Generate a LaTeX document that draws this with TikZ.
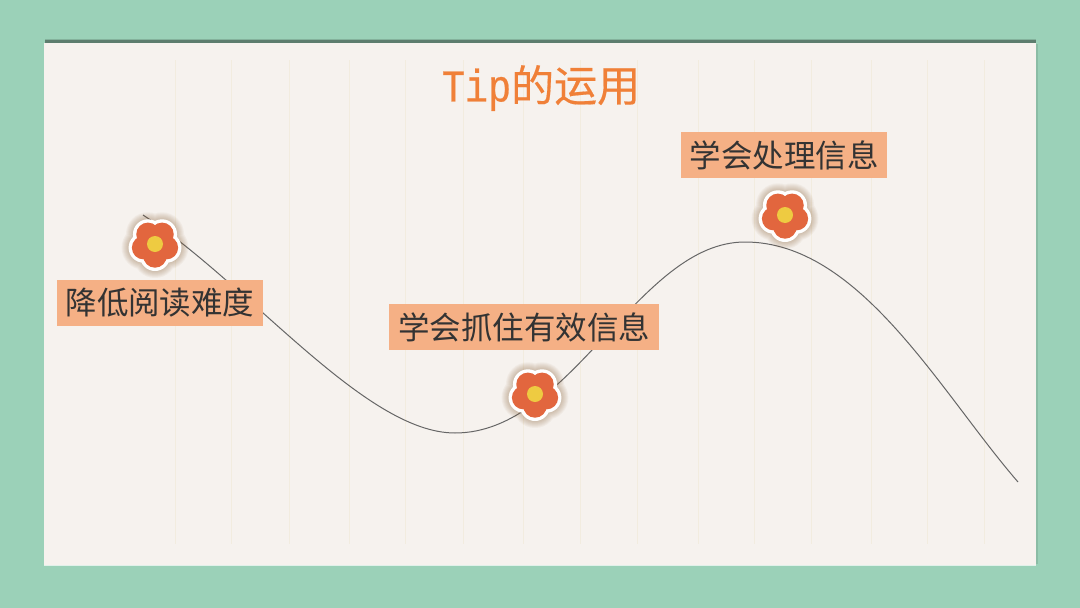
\documentclass[tikz,border=0pt]{standalone}
\usepackage{graphicx}
\usepackage{fontspec}
\newfontfamily\cjk{Noto Sans CJK SC}
\newfontfamily\titlecjk[FakeBold=0.4]{Noto Sans CJK SC}
\newfontfamily\latinmono[FakeBold=0.6]{Liberation Mono}
\definecolor{bgc}{HTML}{9BD1B8}
\definecolor{panelc}{HTML}{F6F2EE}
\definecolor{gridc}{HTML}{F2ECDF}
\definecolor{labelc}{HTML}{F5B085}
\definecolor{petalc}{HTML}{E2663E}
\definecolor{corec}{HTML}{EECB41}
\definecolor{titlec}{HTML}{F08038}
\definecolor{inkc}{HTML}{333333}
\newcommand{\petals}[2]{(90:12) circle[radius=#1] (162:12) circle[radius=#1] (234:12) circle[radius=#1] (306:12) circle[radius=#1] (18:12) circle[radius=#1] (0,0) circle[radius=#2]}
\tikzset{
  tag/.style={fill=labelc,text=inkc,font=\cjk\fontsize{31.5}{32}\selectfont,inner sep=0pt,anchor=center},
  gridline/.style={draw=gridc,line width=1pt},
  curveline/.style={draw=black!60,line width=1pt},
  flower/.pic={
    \foreach \r in {22,21,20,19,18,17,16}{
      \fill[brown!70!black,opacity=0.05] \petals{\r}{\r};
    }
    \fill[white] \petals{15}{17};
    \fill[petalc] \petals{11.7}{14};
    \fill[corec] (0,0) circle[radius=8];
  }
}
\begin{document}
\begin{tikzpicture}[x=1pt,y=-1pt]
\useasboundingbox (0,0) rectangle (1080,608);
\fill[bgc] (0,0) rectangle (1080,608);
% panel with its shadow
\fill[bgc!85!black] (45,38.5) rectangle (1036,40.5);
\fill[bgc!60!black] (45,40) rectangle (1036,44);
\fill[bgc!90!black] (1036,44) rectangle (1037.5,564);
\fill[panelc] (44,43) rectangle (1036,565);
\draw[white!70!bgc,line width=0.8pt] (44,565.5) -- (1036,565.5);
% vertical rules
\foreach \x in {175,231,289,349,405,463,523,580,637,698,754,811,871,927,984}{
  \draw[gridline] (\x,60) -- (\x,544);
}
% curve
\coordinate (c0) at (143,215);
\coordinate (c1) at (455,433);
\coordinate (c2) at (745,242);
\coordinate (c3) at (1018,482);
\draw[curveline] (c0) .. controls (250,285) and (365,433) .. (c1)
  .. controls (572,433) and (638,242) .. (c2)
  .. controls (860,242) and (940,392) .. (c3);
% title
\node[text=titlec,inner sep=0pt] (title) at (541,88) {\scalebox{1}[1.18]{\latinmono\fontsize{38.5}{44}\selectfont Tip}\titlecjk\fontsize{43}{44}\selectfont 的运用};
% labels
\node[tag,minimum width=206pt,minimum height=46pt] (a) at (160,303) {降低阅读难度};
\node[tag,minimum width=270pt,minimum height=46pt] (b) at (524,327) {学会抓住有效信息};
\node[tag,minimum width=206pt,minimum height=46pt] (d) at (784,155) {学会处理信息};
% flowers
\pic at (155,244) {flower};
\pic at (535,394) {flower};
\pic at (785,215) {flower};
\end{tikzpicture}
\end{document}
